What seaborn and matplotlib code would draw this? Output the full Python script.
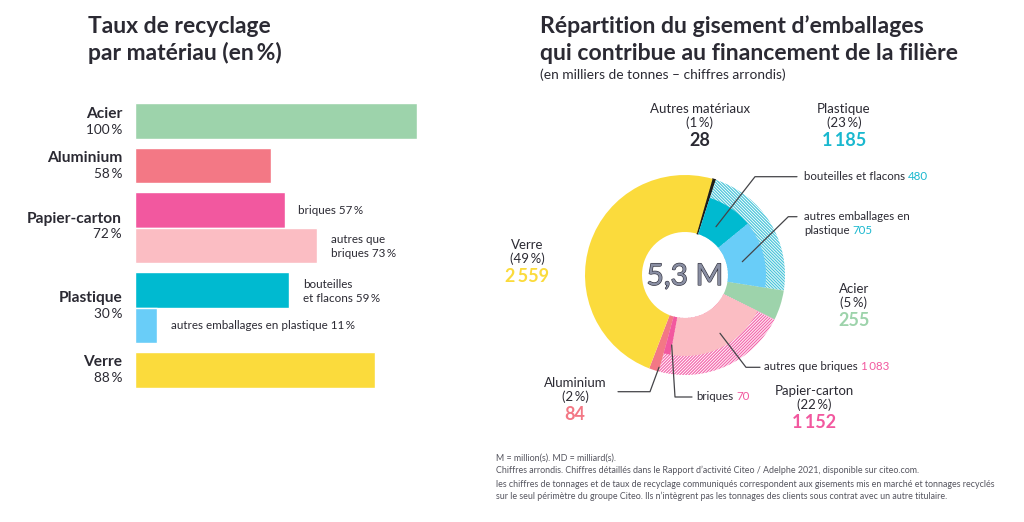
import matplotlib
matplotlib.use("Agg")
import pandas as pd
import seaborn as sns
import matplotlib.pyplot as plt
import matplotlib.patheffects as pe

# bars: lengths as drawn in the picture (they don't follow the printed %)
bar_names = ["Acier", "Aluminium", "Briques", "Autres que briques", "Bouteilles et flacons", "Autres emballages", "Verre"]
bar_lengths = [100, 48, 53, 64.4, 54.6, 7.7, 85]
bar_colors = ["#9DD3AB", "#F37885", "#F2589F", "#FBBDC3", "#00BAD0", "#69CDF8", "#FBDB3C"]

# donut, clockwise from the black slice
material_tonnes = [28, 1185, 255, 1152, 84, 2559]
material_colors = ["#1D1D1B", "white", "#9DD3AB", "white", "#F37885", "#FBDB3C"]
hatch_colors = ["#1D1D1B", "#4CC6DA", "#9DD3AB", "#F46AAE", "#F37885", "#FBDB3C"]
sub_tonnes = [28, 480, 705, 255, 1083, 70, 84, 2559]
sub_colors = ["none", "#00BAD0", "#69CDF8", "none", "#FBBDC3", "#F2589F", "none", "none"]

INK = "#2B2A33"
W, H = 1024, 522

sns.set_theme(style="white")
plt.rcParams["font.family"] = ["Lato", "DejaVu Sans"]
plt.rcParams["hatch.linewidth"] = 0.9

fig = plt.figure(figsize=(W / 100, H / 100), dpi=100)


def axes_px(left, top, right, bottom):
    return fig.add_axes([left / W, 1 - bottom / H, (right - left) / W, (bottom - top) / H])


# bar panel, rows sit on a grid so the paired bars touch
ax = axes_px(135, 103.2, 417.3, 387.8)
rows = pd.DataFrame({
    "name": bar_names,
    "length": bar_lengths,
    "row": [0, 1, 2, 2.8, 3.8, 4.6, 5.6],
})
sns.barplot(data=rows, x="length", y="row", hue="name", palette=bar_colors, orient="y",
            native_scale=True, width=1, dodge=False, legend=False, saturation=1, ax=ax)
ax.set_xlim(0, 100)
ax.set_ylim(6.0, -0.4)
ax.axis("off")

# donut panel
ax2 = axes_px(585, 175, 785, 375)
wedges, _ = ax2.pie(material_tonnes, colors=material_colors, startangle=74, counterclock=False,
                    radius=1, wedgeprops=dict(width=0.57, linewidth=0))
for w, c, m in zip(wedges, hatch_colors, material_tonnes):
    if m in (1185, 1152):
        w.set_edgecolor(c)
        w.set_hatch("\\" * 11 if m == 1185 else "/" * 11)
wedges[0].set_edgecolor("#1D1D1B")
wedges[0].set_linewidth(0.8)
ax2.pie(sub_tonnes, colors=sub_colors, startangle=74, counterclock=False,
        radius=0.81, wedgeprops=dict(width=0.38, linewidth=0))
ax2.set_xlim(-1, 1)
ax2.set_ylim(-1, 1)

# everything else is placed in pixel coordinates
ov = fig.add_axes([0, 0, 1, 1], facecolor="none")
ov.set_xlim(0, W)
ov.set_ylim(H, 0)
ov.axis("off")


def txt(x, y, s, size=9, color=INK, ha="left", weight="normal", **kw):
    return ov.text(x, y, s, fontsize=size, color=color, ha=ha, va="baseline", fontweight=weight, **kw)


def two_tone(x, y, first, second, color, size=8.3):
    t = txt(x, y, first, size=size)
    ov.annotate(second, xy=(1, 0), xycoords=t, xytext=(2.2, 0), textcoords="offset points",
                fontsize=size, color=color, va="bottom")


# titles
txt(88, 33, "Taux de recyclage", size=16.5, weight="bold")
txt(88, 60, "par matériau (en\u2009%)", size=16.5, weight="bold")
txt(540, 33, "Répartition du gisement d’emballages", size=16.6, weight="bold")
txt(540, 60, "qui contribue au financement de la filière", size=16.6, weight="bold")
txt(540, 79, "(en milliers de tonnes – chiffres arrondis)", size=9.9)

# bar labels
for y, name, pct in [(118, "Acier", "100\u2009%"), (162, "Aluminium", "58\u2009%"),
                     (222.5, "Papier-carton", "72\u2009%"), (302, "Plastique", "30\u2009%"),
                     (366.5, "Verre", "88\u2009%")]:
    txt(122, y, name, size=11.2, weight="bold", ha="right")
    txt(122, y + 16, pct, size=9.8, ha="right")
txt(298, 214, "briques 57\u2009%", size=8.4)
txt(331, 243, "autres que", size=8.4)
txt(331, 257, "briques 73\u2009%", size=8.4)
txt(303, 288, "bouteilles", size=8.4)
txt(303, 302, "et flacons 59\u2009%", size=8.4)
txt(171, 329, "autres emballages en plastique 11\u2009%", size=8.4)

# donut labels
center = txt(685, 285, "5,3 M", size=21.5, color="#8A8FA3", ha="center")
center.set_path_effects([pe.Stroke(linewidth=0.9, foreground="#33333F"), pe.Normal()])
for x, y, lines, value, color in [
    (700, 113, ["Autres matériaux", "(1\u2009%)"], "28", INK),
    (844, 113, ["Plastique", "(23\u2009%)"], "1\u2009185", "#1AB8CF"),
    (854, 293, ["Acier", "(5\u2009%)"], "255", "#9DD3AB"),
    (527, 249, ["Verre", "(49\u2009%)"], "2\u2009559", "#FBDB3C"),
    (575, 387, ["Aluminium", "(2\u2009%)"], "84", "#F37885"),
    (814, 395, ["Papier-carton", "(22\u2009%)"], "1\u2009152", "#F2589F"),
]:
    txt(x, y, lines[0], size=9.5, ha="center")
    txt(x, y + 14, lines[1], size=9.5, ha="center")
    txt(x, y + 33.5, value, size=13, color=color, ha="center", weight="bold")

two_tone(804, 180, "bouteilles et flacons", "480", "#1AB8CF")
txt(804, 220, "autres emballages en", size=8.3)
two_tone(804, 234, "plastique", "705", "#1AB8CF")
two_tone(764, 370, "autres que briques", "1\u2009083", "#F2589F")
two_tone(696, 400, "briques", "70", "#F2589F")

# leader lines
for xs, ys in [((716, 755, 797), (226.7, 176.7, 176.7)),
               ((742.3, 788.3, 797), (261.7, 216.7, 216.7)),
               ((720, 746, 760), (333.3, 367.3, 367.3)),
               ((671.7, 675, 692), (345, 397, 397)),
               ((659, 650, 618), (367.3, 391.7, 391.7))]:
    ov.plot(xs, ys, color="#444448", lw=0.9)

# notes
for y, s in [
    (461, "M = million(s). MD = milliard(s)."),
    (473, "Chiffres arrondis. Chiffres détaillés dans le Rapport d’activité Citeo / Adelphe 2021, disponible sur citeo.com."),
    (487, "les chiffres de tonnages et de taux de recyclage communiqués correspondent aux gisements mis en marché et tonnages recyclés"),
    (499, "sur le seul périmètre du groupe Citeo. Ils n’intègrent pas les tonnages des clients sous contrat avec un autre titulaire."),
]:
    txt(496, y, s, size=6.4, color="#55555F")

fig.savefig("out.png", dpi=100)
